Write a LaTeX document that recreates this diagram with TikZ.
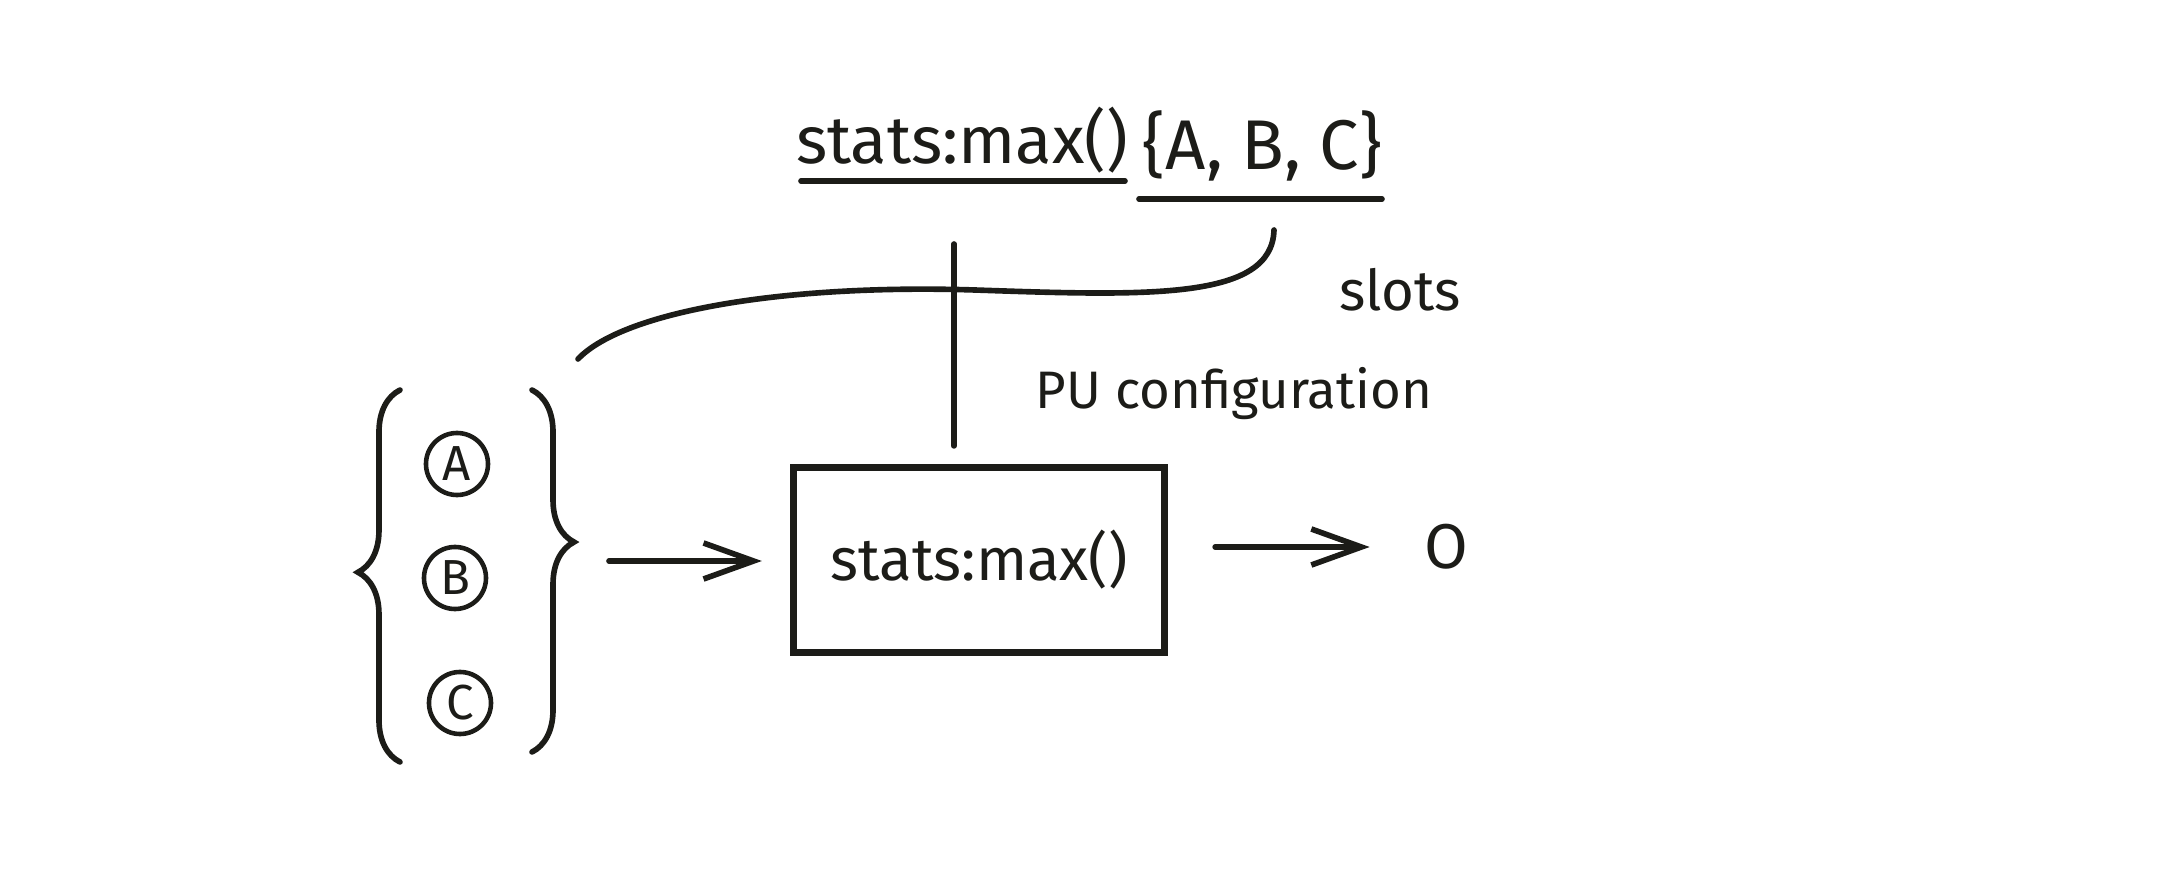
\documentclass[tikz,border=0pt]{standalone}
\usepackage{fontspec}
\setmainfont{Fira Sans}
\usetikzlibrary{arrows.meta, positioning, decorations.pathreplacing}
\definecolor{ink}{HTML}{1C1C18}
\definecolor{paper}{HTML}{FFFFFF}

\begin{document}
\begin{tikzpicture}[
  x=0.01cm, y=-0.01cm,
  >={Straight Barb[length=5mm, width=3.6mm]},
  fnbox/.style={
    draw=ink, line width=2pt, minimum width=3.71cm, minimum height=1.85cm,
    font=\fontsize{17}{20}\selectfont, text=ink, inner sep=4pt
  },
  slot/.style={draw=ink, circle, line width=1.3pt, minimum size=0.62cm,
    inner sep=0pt, font=\fontsize{14}{16}\selectfont, text=ink},
  lbl/.style={font=\fontsize{15}{18}\selectfont, text=ink},
  wire/.style={draw=ink, line width=1.6pt, line cap=round},
  curly/.style={wire, decorate, decoration={brace, amplitude=#1}},
  curly/.default=0.4cm,
]

% Canvas
\fill[paper] (0,0) rectangle (2184,891);
\useasboundingbox (0,0) rectangle (2184,891);

% =============================================
% Configuration string (top)
% =============================================
\node[font=\fontsize{19}{22}\selectfont, text=ink, inner sep=2pt]
  (title) at (962,140) {stats:max()};
\node[font=\fontsize{20}{23}\selectfont, text=ink, inner sep=2pt]
  (set) at (1262,146) {\{A, B, C\}};
\draw[wire] (801,181) -- (1125,181);
\draw[wire] (1139,199) -- (1382,199);

% Labels
\node[lbl, font=\fontsize{16}{19}\selectfont] (slots) at (1400,290) {slots};
\node[lbl] (cfg) at (1234,394) {PU configuration};

% =============================================
% Slot group {A, B, C}
% =============================================
\node[slot] (a) at (457,464) {A};
\node[slot] (b) at (455,578) {B};
\node[slot] (c) at (460,703) {C};

\draw[curly=0.42cm, decoration={aspect=0.51}] (400,762) -- (400,390);
\draw[curly=0.42cm, decoration={aspect=0.42}] (532,390) -- (532,752);

% =============================================
% Function unit and output
% =============================================
\node[fnbox] (fn) at (979,560) {stats:max()};
\node[text=ink, font=\fontsize{18}{21}\selectfont] (out) at (1446,547) {O};

% =============================================
% Connectors
% =============================================
\coordinate (slotsend) at (1274,230);
\coordinate (grptop) at (578,359);
\coordinate (cfgtop) at (954,244);
\coordinate (grpout) at (609,561);

% Slots -> group (curve)
\draw[wire] (slotsend) .. controls (1272,300) and (1150,296) .. (975,290)
  .. controls (790,284) and (625,310) .. (grptop);

% Configuration -> function unit
\draw[wire, shorten >=0.18cm] (cfgtop) -- (cfgtop |- fn.north);

% Group -> function unit
\draw[wire, ->, shorten >=0.28cm] (grpout) -- (fn.west |- grpout);

% Function unit -> output
\draw[wire, ->, shorten <=0.47cm, shorten >=0.42cm] (fn.east |- out) -- (out.west);

\end{tikzpicture}
\end{document}
